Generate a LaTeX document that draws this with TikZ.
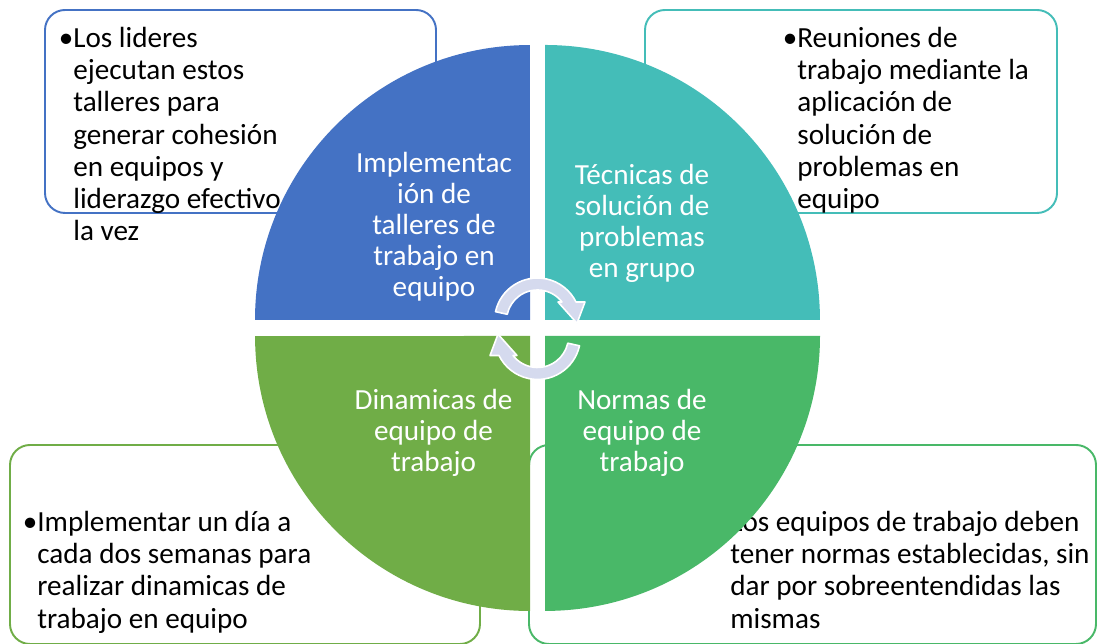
\documentclass[tikz,border=0pt]{standalone}
\usepackage{fontspec}
\setmainfont{Carlito}
\definecolor{azul}{HTML}{4472C4}
\definecolor{turquesa}{HTML}{44BDB8}
\definecolor{verdeA}{HTML}{70AD47}
\definecolor{verdeB}{HTML}{49B868}
\definecolor{lavanda}{HTML}{D5DAEE}
\tikzset{
  caja/.style={draw=#1, line width=1.1pt, fill=white, rounded corners=0.4cm},
  texto/.style={align=left, inner sep=0pt, anchor=north west, font=\fontsize{16.6}{18.3}\selectfont},
  rotulo/.style={align=center, inner sep=0pt, text=white, font=\fontsize{16.6}{17.7}\selectfont},
  flecha/.style={fill=lavanda, draw=white, line width=0.9pt, line join=round}
}
\begin{document}
\begin{tikzpicture}[x=0.02cm,y=0.02cm]
  \useasboundingbox (0,0) rectangle (1099,644);
  %Cajas de texto
  \draw[caja=azul] (45,431) rectangle (436,634);
  \draw[caja=turquesa] (645,431) rectangle (1057,634);
  \draw[caja=verdeA] (10,0) rectangle (480,199);
  \draw[caja=verdeB] (529,0) rectangle (1096,199);
  \node[texto] (t1) at (73,617) {\llap{•}Los lideres\\ejecutan estos\\talleres para\\generar cohesión\\en equipos y\\liderazgo efectivo\\la vez};
  \node[texto] (t2) at (797,617) {\llap{•}Reuniones de\\trabajo mediante la\\aplicación de\\solución de\\problemas en\\equipo};
  \node[texto] (t3) at (37,133) {\llap{•}Implementar un día a\\cada dos semanas para\\realizar dinamicas de\\trabajo en equipo};
  \node[texto] (t4) at (730,133) {\llap{•}Los equipos de trabajo deben\\tener normas establecidas, sin\\dar por sobreentendidas las\\mismas};
  %Cuadrantes del circulo
  \fill[azul] (530,324) -- (255,324) arc[start angle=180, end angle=90, radius=5.5cm] -- cycle;
  \fill[turquesa] (545,324) -- (545,599) arc[start angle=90, end angle=0, radius=5.5cm] -- cycle;
  \fill[verdeA] (530,308) -- (530,33) arc[start angle=270, end angle=180, radius=5.5cm] -- cycle;
  \fill[verdeB] (545,308) -- (820,308) arc[start angle=0, end angle=-90, radius=5.5cm] -- cycle;
  \node[rotulo] (q1) at (434,417) {Implementac\\ión de\\talleres de\\trabajo en\\equipo};
  \node[rotulo] (q2) at (642,420.5) {Técnicas de\\solución de\\problemas\\en grupo};
  \node[rotulo] (q3) at (433.5,211) {Dinamicas de\\equipo de\\trabajo};
  \node[rotulo] (q4) at (642,211) {Normas de\\equipo de\\trabajo};
  %Flechas de giro
  \begin{scope}[shift={(537.5,323)}]
    \draw[flecha] (-42,9.3) arc[start angle=167.5, end angle=26.2, radius=0.86cm]
      -- (47.5,19) -- (39.5,-2.3) -- (20.5,19) -- (24.5,19)
      arc[start angle=37.8, end angle=167.5, radius=0.62cm] -- cycle;
  \end{scope}
  \begin{scope}[shift={(537.5,307.5)}, rotate=180]
    \draw[flecha] (-42,9.3) arc[start angle=167.5, end angle=26.2, radius=0.86cm]
      -- (47.5,19) -- (39.5,-2.3) -- (20.5,19) -- (24.5,19)
      arc[start angle=37.8, end angle=167.5, radius=0.62cm] -- cycle;
  \end{scope}
\end{tikzpicture}
\end{document}
